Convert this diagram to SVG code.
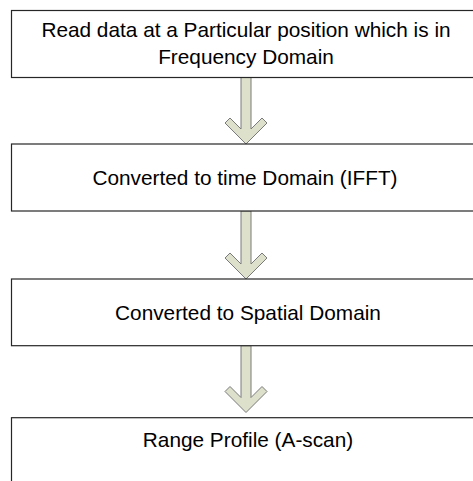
<svg xmlns="http://www.w3.org/2000/svg" width="473" height="481" viewBox="0 0 473 481">
  <style>
    .box { fill: #ffffff; stroke: #262626; stroke-width: 1.2; }
    .label { font-family: "Liberation Sans", Arial, sans-serif; font-size: 20.8px; fill: #000000; text-anchor: middle; }
    .arrow { fill: #dde0cb; stroke: #7a7a7a; stroke-width: 1; stroke-linejoin: miter; }
  </style>
  <rect width="473" height="481" fill="#ffffff"/>

  <!-- block arrows between steps: 10px shaft, chevron head ending at the tip -->
  <g id="connectors">
    <path class="arrow" d="M241,77.5 L251,77.5 L251,129 L262,118 L267,123 L246,144 L225,123 L230,118 L241,129 Z"/>
    <path class="arrow" d="M241,211 L251,211 L251,264 L262,253 L267,258 L246,279 L225,258 L230,253 L241,264 Z"/>
    <path class="arrow" d="M241,345.7 L251,345.7 L251,397.5 L262,386.5 L267,391.5 L246,412.5 L225,391.5 L230,386.5 L241,397.5 Z"/>
  </g>

  <g id="node-read">
    <rect class="box" x="11.5" y="10.5" width="480" height="67"/>
    <text class="label" x="246" y="37">Read data at a Particular position which is in</text>
    <text class="label" x="246" y="63.5">Frequency Domain</text>
  </g>

  <g id="node-time">
    <rect class="box" x="11.5" y="144" width="480" height="67"/>
    <text class="label" x="245" y="185">Converted to time Domain (IFFT)</text>
  </g>

  <g id="node-spatial">
    <rect class="box" x="11.5" y="279" width="480" height="66.7"/>
    <text class="label" x="248" y="319.5">Converted to Spatial Domain</text>
  </g>

  <g id="node-range">
    <rect class="box" x="11.5" y="417.7" width="480" height="80"/>
    <text class="label" x="248" y="447">Range Profile (A-scan)</text>
  </g>
</svg>
